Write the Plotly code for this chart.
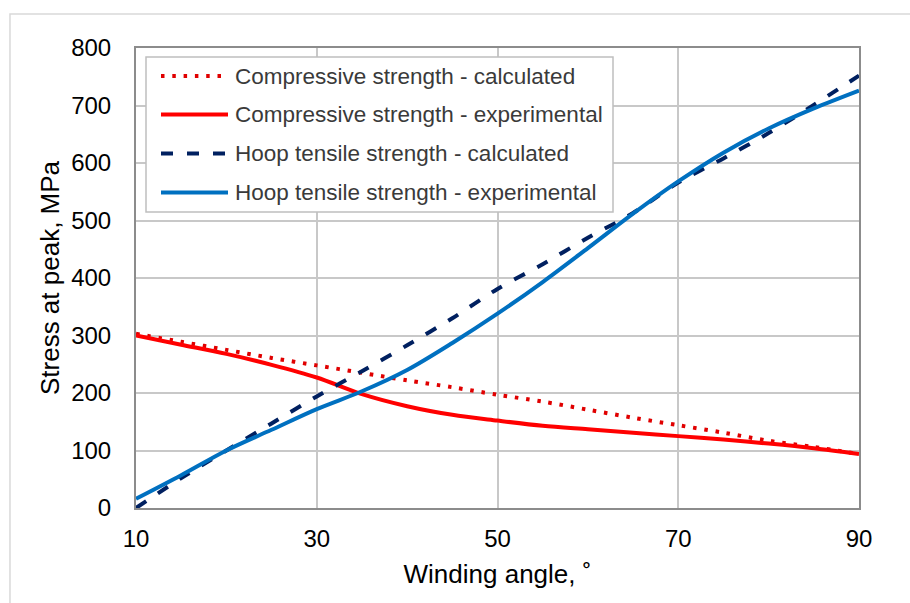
import plotly.graph_objects as go

# Winding angle (degrees)
angle = [10, 15, 20, 25, 30, 35, 40, 45, 50, 55, 60, 65, 70, 75, 80, 85, 90]

# Stress at peak (MPa)
comp_calc = [303, 289, 275, 261, 248, 235, 222, 210, 197, 185, 171, 157, 144, 131, 117, 106, 94]
comp_exp = [300, 284, 268, 249, 227, 198, 177, 162, 152, 143, 137, 131, 125, 119, 112, 104, 94]
hoop_calc = [0, 52, 100, 147, 194, 238, 283, 330, 381, 424, 470, 513, 566, 608, 652, 701, 752]
hoop_exp = [16, 57, 100, 136, 172, 203, 240, 287, 338, 393, 452, 512, 568, 618, 660, 695, 726]

x_ticks = [10, 30, 50, 70, 90]
y_ticks = [0, 100, 200, 300, 400, 500, 600, 700, 800]

FONT = "Liberation Sans, Arial, sans-serif"
W, H = 910, 603
ML, MR, MT, MB = 136, 51, 48, 95
PW, PH = W - ML - MR, H - MT - MB


def px(x):
    return (x - ML) / PW


def py(y):
    return (H - MB - y) / PH


series = [
    ("Compressive strength - calculated", comp_calc, "#e00000", "3.5px,7.8px"),
    ("Compressive strength - experimental", comp_exp, "#ff0000", "solid"),
    ("Hoop tensile strength - calculated", hoop_calc, "#002060", "12px,14px"),
    ("Hoop tensile strength - experimental", hoop_exp, "#0070c0", "solid"),
]

fig = go.Figure()
for name, vals, color, dash in series:
    fig.add_trace(go.Scatter(
        x=angle, y=vals, name=name, mode="lines",
        line=dict(color=color, width=4, dash=dash, shape="spline", smoothing=0.9),
        showlegend=False,
    ))

# Legend box with line samples and labels
shapes = [
    dict(type="rect", xref="paper", yref="paper",
         x0=-0.1743, x1=1.08, y0=-0.23, y1=1.0739,
         line=dict(color="#d9d9d9", width=1.5), fillcolor="rgba(0,0,0,0)", layer="below"),
    dict(type="rect", xref="paper", yref="paper",
         x0=px(146), x1=px(613), y0=py(212), y1=py(57),
         line=dict(color="#bfbfbf", width=1.5), fillcolor="white", layer="above"),
]
annotations = []
row_y = [76, 114.5, 153.5, 192.5]
for (name, _, color, dash), ry in zip(series, row_y):
    shapes.append(dict(
        type="line", xref="paper", yref="paper",
        x0=px(161), x1=px(228), y0=py(ry), y1=py(ry),
        line=dict(color=color, width=4, dash=dash), layer="above",
    ))
    annotations.append(dict(
        text=name, xref="paper", yref="paper", x=px(233), y=py(ry),
        xanchor="left", yanchor="middle", showarrow=False,
        font=dict(family=FONT, size=22.5, color="#3a3a3a"),
    ))

fig.update_layout(
    width=W, height=H,
    margin=dict(l=ML, r=MR, t=MT, b=MB),
    paper_bgcolor="white", plot_bgcolor="white",
    font=dict(family=FONT, size=24, color="black"),
    showlegend=False,
    xaxis=dict(
        range=[10, 90], tickvals=x_ticks, showgrid=True, gridcolor="#c8c8c8", gridwidth=1.5,
        showline=True, linecolor="#8c8c8c", linewidth=2, mirror=True, zeroline=False,
        ticks="", ticklabelstandoff=8,
        title=dict(text="Winding angle, ˚", font=dict(size=26), standoff=14),
    ),
    yaxis=dict(
        range=[0, 800], tickvals=y_ticks, showgrid=True, gridcolor="#c8c8c8", gridwidth=1.5,
        showline=True, linecolor="#8c8c8c", linewidth=2, mirror=True, zeroline=False,
        ticks="", ticklabelstandoff=18,
        title=dict(text="Stress at peak, MPa", font=dict(size=26), standoff=4),
    ),
    shapes=shapes,
    annotations=annotations,
)

fig.write_html("out.html")
